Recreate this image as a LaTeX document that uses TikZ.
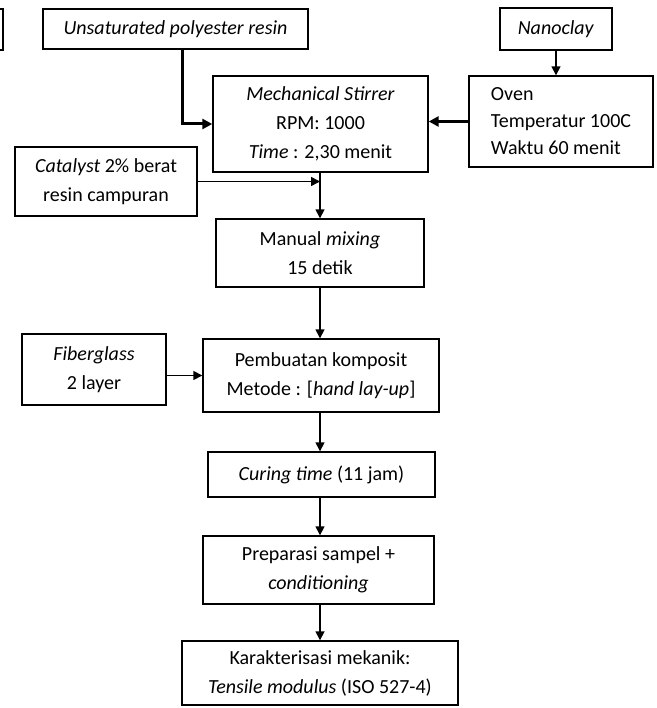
\documentclass[tikz,border=0pt]{standalone}
\usepackage{fontspec}
\setmainfont{Carlito}
\usetikzlibrary{arrows.meta}
\begin{document}
\begin{tikzpicture}[x=1pt,y=-1pt,
  box/.style={draw=black, line width=1.4pt, fill=white, inner sep=0pt, align=center,
    font=\fontsize{20}{29}\selectfont},
  conn/.style={draw=black, line width=1.6pt, -{Triangle[length=9pt,width=9pt]}},
  thickconn/.style={draw=black, line width=3pt, -{Triangle[length=10pt,width=10pt]}}]
\useasboundingbox (0,0) rectangle (656,708);
\clip (0,0) rectangle (656,708);
\fill[white] (0,0) rectangle (656,708);

\node[box, minimum width=103pt, minimum height=41pt] (prev) at (-48.5,29.5) {};
\node[box, minimum width=265pt, minimum height=40pt] (upr) at (175.5,29) {\textit{Unsaturated polyester resin}};
\node[box, minimum width=112pt, minimum height=42pt] (nano) at (556,29) {\textit{Nanoclay}};
\node[box, minimum width=215pt, minimum height=96pt] (stir) at (320.5,124) {\textit{Mechanical Stirrer}\\RPM: 1000\\\textit{Time} : 2,30 menit};
\node[box, minimum width=184pt, minimum height=91pt, align=left, font=\fontsize{20}{27}\selectfont] (oven) at (561,121.5) {Oven\\Temperatur 100C\\Waktu 60 menit};
\node[box, minimum width=182pt, minimum height=69pt] (cat) at (106,181.5) {\textit{Catalyst} 2\% berat\\resin campuran};
\node[box, minimum width=208pt, minimum height=68pt] (mix) at (320,253) {Manual \textit{mixing}\\15 detik};
\node[box, minimum width=144pt, minimum height=71pt] (fib) at (94,369.5) {\textit{Fiberglass}\\2 layer};
\node[box, minimum width=236pt, minimum height=73pt] (pem) at (321,375.5) {Pembuatan komposit\\Metode : [\textit{hand lay-up}]};
\node[box, minimum width=227pt, minimum height=45pt] (cur) at (321.5,474.5) {\textit{Curing time} (11 jam)};
\node[box, minimum width=231pt, minimum height=68pt] (prep) at (318.5,570) {Preparasi sampel +\\\textit{conditioning}};
\node[box, minimum width=276pt, minimum height=64pt] (kar) at (320,673) {Karakterisasi mekanik:\\\textit{Tensile modulus} (ISO 527-4)};

\coordinate (uprdown) at (182,49);
\coordinate (axis) at (320,0);
\draw[thickconn] (uprdown) |- (stir.west);
\draw[thickconn] (oven.west) -- (oven.west -| stir.east);
\draw[conn] (nano.south) -- (nano.south |- oven.north);
\draw[conn] (stir.south -| axis) -- (mix.north -| axis);
\draw[conn] (cat.east) -- (cat.east -| axis);
\draw[conn] (mix.south -| axis) -- (pem.north -| axis);
\draw[conn] (fib.east |- pem.west) -- (pem.west);
\draw[conn] (pem.south -| axis) -- (cur.north -| axis);
\draw[conn] (cur.south -| axis) -- (prep.north -| axis);
\draw[conn] (prep.south -| axis) -- (kar.north -| axis);
\end{tikzpicture}
\end{document}
